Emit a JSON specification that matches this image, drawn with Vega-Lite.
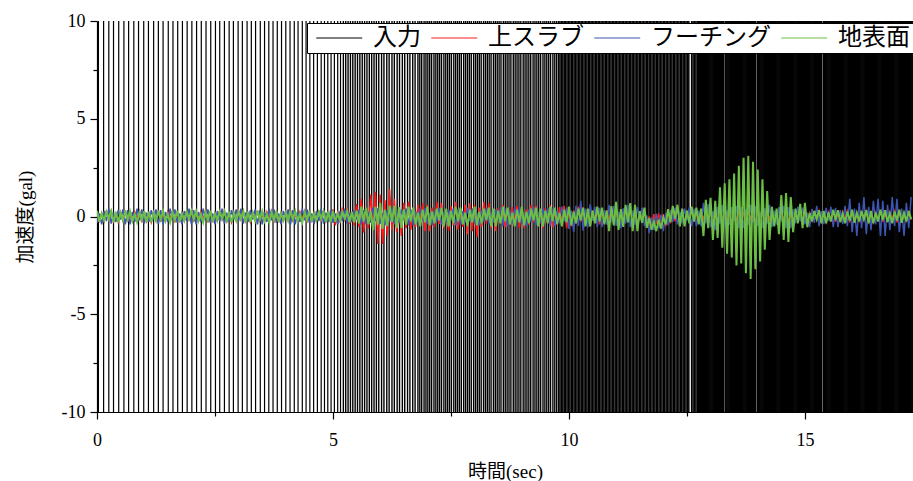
{
"$schema":"https://vega.github.io/schema/vega-lite/v6.json",
"width":816,"height":391,
"autosize":"none",
"padding":{"left":97,"top":21,"right":0,"bottom":69},
"background":"white",
"config":{"view":{"stroke":null},
"axis":{"domainColor":"black","tickColor":"black","labelColor":"black","titleColor":"black","grid":false,"labelFont":"Liberation Serif","titleFont":"Liberation Serif, Noto Sans CJK JP","labelFontSize":18,"titleFontSize":19,"titleFontWeight":"normal","domainWidth":1.2,"tickWidth":1.2}},
"datasets":{
"input":[{"t":0.03},{"t":0.14},{"t":0.25},{"t":0.35},{"t":0.46},{"t":0.57},{"t":0.67},{"t":0.78},{"t":0.88},{"t":0.99},{"t":1.09},{"t":1.2},{"t":1.3},{"t":1.4},{"t":1.51},{"t":1.61},{"t":1.71},{"t":1.81},{"t":1.91},{"t":2.01},{"t":2.11},{"t":2.21},{"t":2.31},{"t":2.41},{"t":2.51},{"t":2.6},{"t":2.7},{"t":2.8},{"t":2.89},{"t":2.99},{"t":3.08},{"t":3.18},{"t":3.27},{"t":3.36},{"t":3.46},{"t":3.55},{"t":3.64},{"t":3.73},{"t":3.82},{"t":3.91},{"t":4.0},{"t":4.09},{"t":4.18},{"t":4.26},{"t":4.35},{"t":4.43},{"t":4.51},{"t":4.59},{"t":4.67},{"t":4.75},{"t":4.82},{"t":4.89},{"t":4.96},{"t":5.03},{"t":5.1},{"t":5.16},{"t":5.22},
{"t":5.27},{"t":5.32},{"t":5.37},{"t":5.42},{"t":5.47},{"t":5.52},{"t":5.57},{"t":5.62},{"t":5.67},{"t":5.72},{"t":5.77},{"t":5.82},{"t":5.87},{"t":5.92},{"t":5.97},
{"t":6.03},{"t":6.08},{"t":6.14},{"t":6.19},{"t":6.25},{"t":6.3},{"t":6.36},{"t":6.41},{"t":6.47},{"t":6.52},{"t":6.58},{"t":6.63},{"t":6.69},{"t":6.74},{"t":6.8},
{"t":6.84},{"t":6.88},{"t":6.93},{"t":6.97},{"t":7.01},{"t":7.05},{"t":7.09},{"t":7.14},{"t":7.18},{"t":7.22},{"t":7.26},{"t":7.3},{"t":7.35},{"t":7.39},{"t":7.43},{"t":7.47},{"t":7.51},{"t":7.56},{"t":7.6},{"t":7.64},{"t":7.68},{"t":7.72},{"t":7.77},{"t":7.81},{"t":7.85},{"t":7.89},{"t":7.93},{"t":7.98},{"t":8.02},{"t":8.06},{"t":8.1},{"t":8.14},{"t":8.19},{"t":8.23},{"t":8.27},{"t":8.31},{"t":8.35},{"t":8.4},{"t":8.44},{"t":8.48},{"t":8.52},{"t":8.56},{"t":8.61},{"t":8.65},{"t":8.69},{"t":8.73},{"t":8.77},{"t":8.82},{"t":8.86},{"t":8.9},{"t":8.94},{"t":8.98},{"t":9.03},{"t":9.07},{"t":9.11},{"t":9.15},{"t":9.19},{"t":9.24},{"t":9.28},{"t":9.32},{"t":9.36},{"t":9.4},{"t":9.45},{"t":9.49},{"t":9.53},{"t":9.57},{"t":9.61},{"t":9.66},{"t":9.7},{"t":9.74},{"t":9.78},
{"t":9.81},{"t":9.84},{"t":9.87},{"t":9.9},{"t":9.93},{"t":9.96},{"t":9.99},{"t":10.02},{"t":10.05},{"t":10.08},{"t":10.11},{"t":10.14},{"t":10.17},{"t":10.2},{"t":10.23},{"t":10.26},{"t":10.29},{"t":10.32},{"t":10.35},{"t":10.38},{"t":10.41},{"t":10.44},{"t":10.47},{"t":10.5},{"t":10.53},{"t":10.56},{"t":10.59},{"t":10.62},{"t":10.65},{"t":10.68},{"t":10.71},{"t":10.74},{"t":10.77},{"t":10.8},{"t":10.83},{"t":10.86},{"t":10.89},{"t":10.92},{"t":10.95},{"t":10.98},{"t":11.01},{"t":11.04},{"t":11.07},{"t":11.1},{"t":11.13},{"t":11.16},{"t":11.19},{"t":11.22},{"t":11.25},{"t":11.28},{"t":11.31},{"t":11.34},{"t":11.37},{"t":11.4},{"t":11.43},{"t":11.46},{"t":11.49},{"t":11.52},{"t":11.55},{"t":11.58},{"t":11.61},{"t":11.64},{"t":11.67},{"t":11.7},{"t":11.73},{"t":11.76},{"t":11.79},{"t":11.82},{"t":11.85},{"t":11.88},{"t":11.91},{"t":11.94},{"t":11.97},{"t":12.0},{"t":12.03},{"t":12.06},{"t":12.09},{"t":12.12},{"t":12.15},{"t":12.18},{"t":12.21},{"t":12.24},{"t":12.27},{"t":12.3},{"t":12.33},{"t":12.36},{"t":12.39},{"t":12.42},{"t":12.45},{"t":12.48},{"t":12.51},{"t":12.54},{"t":12.6},{"t":12.63},{"t":12.66},{"t":12.69},{"t":12.72},{"t":12.75},
{"t":12.77},{"t":12.79},{"t":12.81},{"t":12.83},{"t":12.85},{"t":12.87},{"t":12.89},{"t":12.91},{"t":12.93},{"t":12.95},{"t":12.97},{"t":12.99},{"t":13.01},{"t":13.03},{"t":13.05},{"t":13.07},{"t":13.09},{"t":13.11},{"t":13.13},{"t":13.15},{"t":13.17},{"t":13.19},{"t":13.21},{"t":13.23},{"t":13.25},{"t":13.27},{"t":13.31},{"t":13.33},{"t":13.35},{"t":13.37},{"t":13.39},{"t":13.41},{"t":13.43},{"t":13.45},{"t":13.47},{"t":13.49},{"t":13.51},{"t":13.53},{"t":13.55},{"t":13.57},{"t":13.59},{"t":13.61},{"t":13.63},{"t":13.65},{"t":13.67},{"t":13.69},{"t":13.71},{"t":13.73},{"t":13.75},{"t":13.77},{"t":13.79},{"t":13.81},{"t":13.83},{"t":13.85},{"t":13.87},{"t":13.89},{"t":13.91},{"t":13.93},{"t":13.95},{"t":13.99},
{"t":14.01},{"t":14.03},{"t":14.05},{"t":14.07},{"t":14.09},{"t":14.11},{"t":14.13},{"t":14.15},{"t":14.17},{"t":14.19},{"t":14.21},{"t":14.23},{"t":14.25},{"t":14.27},{"t":14.29},{"t":14.31},{"t":14.33},{"t":14.35},{"t":14.37},{"t":14.39},{"t":14.41},{"t":14.43},{"t":14.45},{"t":14.47},{"t":14.49},{"t":14.51},{"t":14.53},{"t":14.55},{"t":14.57},{"t":14.59},{"t":14.61},{"t":14.63},{"t":14.65},{"t":14.67},{"t":14.69},{"t":14.71},{"t":14.73},{"t":14.75},{"t":14.77},{"t":14.79},{"t":14.81},{"t":14.83},{"t":14.85},{"t":14.87},{"t":14.89},{"t":14.91},{"t":14.93},{"t":14.95},{"t":14.97},{"t":14.99},
{"t":15.01},{"t":15.03},{"t":15.05},{"t":15.07},{"t":15.09},{"t":15.11},{"t":15.13},{"t":15.15},{"t":15.17},{"t":15.19},{"t":15.21},{"t":15.23},{"t":15.25},{"t":15.27},{"t":15.29},{"t":15.31},{"t":15.33},{"t":15.35},{"t":15.39},{"t":15.41},{"t":15.43},{"t":15.45},{"t":15.47},{"t":15.49},{"t":15.51},{"t":15.53},{"t":15.55},{"t":15.57},{"t":15.59},{"t":15.61},{"t":15.63},{"t":15.65},{"t":15.67},{"t":15.69},{"t":15.71},{"t":15.73},{"t":15.75},{"t":15.77},{"t":15.79},{"t":15.81},{"t":15.83},{"t":15.85},{"t":15.87},{"t":15.89},{"t":15.91},{"t":15.93},{"t":15.95},{"t":15.97},{"t":15.99},
{"t":16.01},{"t":16.03},{"t":16.05},{"t":16.07},{"t":16.09},{"t":16.11},{"t":16.13},{"t":16.15},{"t":16.17},{"t":16.19},{"t":16.21},{"t":16.23},{"t":16.25},{"t":16.27},{"t":16.29},{"t":16.31},{"t":16.33},{"t":16.35},{"t":16.37},{"t":16.39},{"t":16.41},{"t":16.43},{"t":16.45},{"t":16.47},{"t":16.49},{"t":16.51},{"t":16.53},{"t":16.55},{"t":16.57},{"t":16.59},{"t":16.61},{"t":16.63},{"t":16.65},{"t":16.67},{"t":16.69},{"t":16.71},{"t":16.73},{"t":16.75},{"t":16.77},{"t":16.79},{"t":16.81},{"t":16.83},{"t":16.85},{"t":16.87},{"t":16.89},{"t":16.91},{"t":16.93},{"t":16.95},{"t":16.97},{"t":16.99},
{"t":17.01},{"t":17.03},{"t":17.05},{"t":17.07},{"t":17.09},{"t":17.11},{"t":17.13},{"t":17.15},{"t":17.17},{"t":17.19},{"t":17.21},{"t":17.23},{"t":17.25},{"t":17.27},{"t":17.29}],
"resp":[
{"t":0,"r":0.24,"b":-0.32,"g":0.3},{"t":0.05,"r":-0.3,"b":0.16,"g":-0.27},{"t":0.1,"r":0.18,"b":-0.4,"g":0.15},{"t":0.15,"r":-0.21,"b":0.28,"g":-0.21},{"t":0.2,"r":0.3,"b":-0.24,"g":0.24},{"t":0.25,"r":-0.15,"b":0.4,"g":-0.12},{"t":0.3,"r":0.27,"b":-0.36,"g":0.27},{"t":0.35,"r":-0.24,"b":0.2,"g":-0.3},{"t":0.4,"r":0.12,"b":-0.28,"g":0.24},{"t":0.45,"r":-0.3,"b":0.32,"g":-0.3},{"t":0.5,"r":0.21,"b":-0.16,"g":0.18},{"t":0.55,"r":-0.18,"b":0.36,"g":-0.21},{"t":0.6,"r":0.3,"b":-0.4,"g":0.3},{"t":0.65,"r":-0.27,"b":0.32,"g":-0.15},{"t":0.7,"r":0.15,"b":-0.4,"g":0.27},{"t":0.75,"r":-0.21,"b":0.24,"g":-0.24},{"t":0.8,"r":0.24,"b":-0.28,"g":0.12},{"t":0.85,"r":-0.12,"b":0.4,"g":-0.3},{"t":0.9,"r":0.27,"b":-0.2,"g":0.21},{"t":0.95,"r":-0.3,"b":0.36,"g":-0.18},
{"t":1.0,"r":0.27,"b":-0.36,"g":0.27},{"t":1.05,"r":-0.24,"b":0.2,"g":-0.3},{"t":1.1,"r":0.12,"b":-0.28,"g":0.24},{"t":1.15,"r":-0.3,"b":0.32,"g":-0.3},{"t":1.2,"r":0.21,"b":-0.16,"g":0.18},{"t":1.25,"r":-0.18,"b":0.36,"g":-0.21},{"t":1.3,"r":0.3,"b":-0.4,"g":0.3},{"t":1.35,"r":-0.27,"b":0.32,"g":-0.15},{"t":1.4,"r":0.15,"b":-0.4,"g":0.27},{"t":1.45,"r":-0.21,"b":0.24,"g":-0.24},{"t":1.5,"r":0.24,"b":-0.28,"g":0.12},{"t":1.55,"r":-0.12,"b":0.4,"g":-0.3},{"t":1.6,"r":0.27,"b":-0.2,"g":0.21},{"t":1.65,"r":-0.3,"b":0.36,"g":-0.18},{"t":1.7,"r":0.24,"b":-0.32,"g":0.3},{"t":1.75,"r":-0.3,"b":0.16,"g":-0.27},{"t":1.8,"r":0.18,"b":-0.4,"g":0.15},{"t":1.85,"r":-0.21,"b":0.28,"g":-0.21},{"t":1.9,"r":0.3,"b":-0.24,"g":0.24},{"t":1.95,"r":-0.15,"b":0.4,"g":-0.12},
{"t":2.0,"r":0.3,"b":-0.4,"g":0.3},{"t":2.05,"r":-0.27,"b":0.32,"g":-0.15},{"t":2.1,"r":0.15,"b":-0.4,"g":0.27},{"t":2.15,"r":-0.21,"b":0.24,"g":-0.24},{"t":2.2,"r":0.24,"b":-0.28,"g":0.12},{"t":2.25,"r":-0.12,"b":0.4,"g":-0.3},{"t":2.3,"r":0.27,"b":-0.2,"g":0.21},{"t":2.35,"r":-0.3,"b":0.36,"g":-0.18},{"t":2.4,"r":0.24,"b":-0.32,"g":0.3},{"t":2.45,"r":-0.3,"b":0.16,"g":-0.27},{"t":2.5,"r":0.18,"b":-0.4,"g":0.15},{"t":2.55,"r":-0.21,"b":0.28,"g":-0.21},{"t":2.6,"r":0.3,"b":-0.24,"g":0.24},{"t":2.65,"r":-0.15,"b":0.4,"g":-0.12},{"t":2.7,"r":0.27,"b":-0.36,"g":0.27},{"t":2.75,"r":-0.24,"b":0.2,"g":-0.3},{"t":2.8,"r":0.12,"b":-0.28,"g":0.24},{"t":2.85,"r":-0.3,"b":0.32,"g":-0.3},{"t":2.9,"r":0.21,"b":-0.16,"g":0.18},{"t":2.95,"r":-0.18,"b":0.36,"g":-0.21},
{"t":3.0,"r":0.3,"b":-0.24,"g":0.24},{"t":3.05,"r":-0.15,"b":0.4,"g":-0.12},{"t":3.1,"r":0.27,"b":-0.36,"g":0.27},{"t":3.15,"r":-0.24,"b":0.2,"g":-0.3},{"t":3.2,"r":0.12,"b":-0.28,"g":0.24},{"t":3.25,"r":-0.3,"b":0.32,"g":-0.3},{"t":3.3,"r":0.21,"b":-0.16,"g":0.18},{"t":3.35,"r":-0.18,"b":0.36,"g":-0.21},{"t":3.4,"r":0.3,"b":-0.4,"g":0.3},{"t":3.45,"r":-0.27,"b":0.32,"g":-0.15},{"t":3.5,"r":0.15,"b":-0.4,"g":0.27},{"t":3.55,"r":-0.21,"b":0.24,"g":-0.24},{"t":3.6,"r":0.24,"b":-0.28,"g":0.12},{"t":3.65,"r":-0.12,"b":0.4,"g":-0.3},{"t":3.7,"r":0.27,"b":-0.2,"g":0.21},{"t":3.75,"r":-0.3,"b":0.36,"g":-0.18},{"t":3.8,"r":0.24,"b":-0.32,"g":0.3},{"t":3.85,"r":-0.3,"b":0.16,"g":-0.27},{"t":3.9,"r":0.18,"b":-0.4,"g":0.15},{"t":3.95,"r":-0.21,"b":0.28,"g":-0.21},
{"t":4.0,"r":0.21,"b":-0.16,"g":0.18},{"t":4.05,"r":-0.18,"b":0.36,"g":-0.21},{"t":4.1,"r":0.3,"b":-0.4,"g":0.3},{"t":4.15,"r":-0.27,"b":0.32,"g":-0.15},{"t":4.2,"r":0.15,"b":-0.4,"g":0.27},{"t":4.25,"r":-0.21,"b":0.24,"g":-0.24},{"t":4.3,"r":0.24,"b":-0.28,"g":0.12},{"t":4.35,"r":-0.12,"b":0.4,"g":-0.3},{"t":4.4,"r":0.27,"b":-0.2,"g":0.21},{"t":4.45,"r":-0.3,"b":0.36,"g":-0.18},{"t":4.5,"r":0.24,"b":-0.32,"g":0.3},{"t":4.55,"r":-0.3,"b":0.16,"g":-0.27},{"t":4.6,"r":0.18,"b":-0.4,"g":0.15},{"t":4.65,"r":-0.21,"b":0.28,"g":-0.21},{"t":4.7,"r":0.3,"b":-0.24,"g":0.24},{"t":4.75,"r":-0.15,"b":0.4,"g":-0.12},{"t":4.8,"r":0.27,"b":-0.36,"g":0.27},{"t":4.85,"r":-0.24,"b":0.2,"g":-0.3},{"t":4.9,"r":0.12,"b":-0.28,"g":0.24},{"t":4.95,"r":-0.3,"b":0.32,"g":-0.3},
{"t":5.0,"r":0.36,"b":-0.32,"g":0.3},{"t":5.05,"r":-0.45,"b":0.16,"g":-0.27},{"t":5.1,"r":0.27,"b":-0.4,"g":0.15},{"t":5.15,"r":-0.32,"b":0.28,"g":-0.21},{"t":5.2,"r":0.45,"b":-0.24,"g":0.24},{"t":5.25,"r":-0.23,"b":0.4,"g":-0.12},{"t":5.3,"r":0.41,"b":-0.36,"g":0.27},{"t":5.35,"r":-0.36,"b":0.2,"g":-0.3},{"t":5.4,"r":0.18,"b":-0.28,"g":0.24},{"t":5.45,"r":-0.45,"b":0.32,"g":-0.3},
{"t":5.5,"r":0.63,"b":-0.16,"g":0.3},{"t":5.55,"r":-0.54,"b":0.36,"g":-0.35},{"t":5.6,"r":0.9,"b":-0.4,"g":0.5},{"t":5.65,"r":-0.81,"b":0.32,"g":-0.25},{"t":5.7,"r":0.45,"b":-0.4,"g":0.45},{"t":5.75,"r":-0.63,"b":0.24,"g":-0.4},
{"t":5.8,"r":1.12,"b":-0.32,"g":0.28},{"t":5.85,"r":-0.56,"b":0.45,"g":-0.7},{"t":5.9,"r":1.26,"b":-0.23,"g":0.49},{"t":5.95,"r":-1.4,"b":0.41,"g":-0.42},{"t":6.0,"r":1.12,"b":-0.36,"g":0.7},{"t":6.05,"r":-1.4,"b":0.18,"g":-0.63},{"t":6.1,"r":0.84,"b":-0.45,"g":0.35},{"t":6.15,"r":-0.98,"b":0.32,"g":-0.49},{"t":6.2,"r":1.4,"b":-0.27,"g":0.56},{"t":6.25,"r":-0.7,"b":0.45,"g":-0.28},
{"t":6.3,"r":0.9,"b":-0.41,"g":0.54},{"t":6.35,"r":-0.8,"b":0.23,"g":-0.6},{"t":6.4,"r":0.4,"b":-0.32,"g":0.48},{"t":6.45,"r":-1.0,"b":0.36,"g":-0.6},{"t":6.5,"r":0.7,"b":-0.18,"g":0.36},{"t":6.55,"r":-0.6,"b":0.41,"g":-0.42},
{"t":6.6,"r":0.75,"b":-0.45,"g":0.5},{"t":6.65,"r":-0.68,"b":0.36,"g":-0.25},{"t":6.7,"r":0.38,"b":-0.45,"g":0.45},{"t":6.75,"r":-0.53,"b":0.27,"g":-0.4},{"t":6.8,"r":0.6,"b":-0.32,"g":0.2},{"t":6.85,"r":-0.3,"b":0.45,"g":-0.5},{"t":6.9,"r":0.68,"b":-0.23,"g":0.35},{"t":6.95,"r":-0.75,"b":0.41,"g":-0.3},{"t":7.0,"r":0.6,"b":-0.36,"g":0.5},{"t":7.05,"r":-0.75,"b":0.18,"g":-0.45},{"t":7.1,"r":0.45,"b":-0.45,"g":0.25},{"t":7.15,"r":-0.53,"b":0.32,"g":-0.35},{"t":7.2,"r":0.75,"b":-0.27,"g":0.4},{"t":7.25,"r":-0.38,"b":0.45,"g":-0.2},{"t":7.3,"r":0.68,"b":-0.41,"g":0.45},{"t":7.35,"r":-0.6,"b":0.23,"g":-0.5},{"t":7.4,"r":0.3,"b":-0.32,"g":0.4},{"t":7.45,"r":-0.75,"b":0.36,"g":-0.5},{"t":7.5,"r":0.53,"b":-0.18,"g":0.3},{"t":7.55,"r":-0.45,"b":0.41,"g":-0.35},
{"t":7.6,"r":0.75,"b":-0.45,"g":0.5},{"t":7.65,"r":-0.68,"b":0.36,"g":-0.25},{"t":7.7,"r":0.38,"b":-0.45,"g":0.45},{"t":7.75,"r":-0.53,"b":0.27,"g":-0.4},{"t":7.8,"r":0.6,"b":-0.32,"g":0.2},{"t":7.85,"r":-0.9,"b":0.45,"g":-0.5},{"t":7.9,"r":0.68,"b":-0.23,"g":0.35},{"t":7.95,"r":-0.75,"b":0.41,"g":-0.3},{"t":8.0,"r":0.6,"b":-0.36,"g":0.5},{"t":8.05,"r":-1.05,"b":0.18,"g":-0.45},{"t":8.1,"r":0.45,"b":-0.45,"g":0.25},{"t":8.15,"r":-0.53,"b":0.32,"g":-0.35},{"t":8.2,"r":0.75,"b":-0.27,"g":0.4},{"t":8.25,"r":-0.38,"b":0.45,"g":-0.2},{"t":8.3,"r":0.68,"b":-0.41,"g":0.45},{"t":8.35,"r":-0.6,"b":0.23,"g":-0.5},{"t":8.4,"r":0.3,"b":-0.32,"g":0.4},{"t":8.45,"r":-0.75,"b":0.36,"g":-0.5},
{"t":8.5,"r":0.42,"b":-0.2,"g":0.3},{"t":8.55,"r":-0.36,"b":0.45,"g":-0.35},{"t":8.6,"r":0.6,"b":-0.5,"g":0.5},{"t":8.65,"r":-0.54,"b":0.4,"g":-0.25},{"t":8.7,"r":0.3,"b":-0.5,"g":0.45},{"t":8.75,"r":-0.42,"b":0.3,"g":-0.4},{"t":8.8,"r":0.48,"b":-0.35,"g":0.2},{"t":8.85,"r":-0.24,"b":0.5,"g":-0.5},{"t":8.9,"r":0.54,"b":-0.25,"g":0.35},{"t":8.95,"r":-0.6,"b":0.45,"g":-0.3},{"t":9.0,"r":0.48,"b":-0.4,"g":0.5},{"t":9.05,"r":-0.6,"b":0.2,"g":-0.45},{"t":9.1,"r":0.36,"b":-0.5,"g":0.25},{"t":9.15,"r":-0.42,"b":0.35,"g":-0.35},{"t":9.2,"r":0.6,"b":-0.3,"g":0.4},{"t":9.25,"r":-0.3,"b":0.5,"g":-0.2},{"t":9.3,"r":0.54,"b":-0.45,"g":0.45},{"t":9.35,"r":-0.48,"b":0.25,"g":-0.5},{"t":9.4,"r":0.24,"b":-0.35,"g":0.4},{"t":9.45,"r":-0.6,"b":0.4,"g":-0.5},
{"t":9.5,"r":0.42,"b":-0.2,"g":0.3},{"t":9.55,"r":-0.36,"b":0.45,"g":-0.35},{"t":9.6,"r":0.6,"b":-0.5,"g":0.5},{"t":9.65,"r":-0.54,"b":0.4,"g":-0.25},{"t":9.7,"r":0.3,"b":-0.5,"g":0.45},{"t":9.75,"r":-0.42,"b":0.3,"g":-0.4},{"t":9.8,"r":0.48,"b":-0.35,"g":0.2},{"t":9.85,"r":-0.24,"b":0.5,"g":-0.5},{"t":9.9,"r":0.54,"b":-0.25,"g":0.35},{"t":9.95,"r":-0.6,"b":0.45,"g":-0.3},
{"t":10.0,"r":0.4,"b":-0.64,"g":0.5},{"t":10.05,"r":-0.5,"b":0.32,"g":-0.45},{"t":10.1,"r":0.3,"b":-0.8,"g":0.25},{"t":10.15,"r":-0.35,"b":0.56,"g":-0.35},{"t":10.2,"r":0.5,"b":-0.48,"g":0.4},{"t":10.25,"r":-0.25,"b":0.8,"g":-0.2},{"t":10.3,"r":0.45,"b":-0.72,"g":0.45},{"t":10.35,"r":-0.4,"b":0.4,"g":-0.5},{"t":10.4,"r":0.2,"b":-0.56,"g":0.4},{"t":10.45,"r":-0.5,"b":0.64,"g":-0.5},
{"t":10.5,"r":0.32,"b":-0.22,"g":0.3},{"t":10.55,"r":-0.27,"b":0.5,"g":-0.35},{"t":10.6,"r":0.45,"b":-0.55,"g":0.5},{"t":10.65,"r":-0.41,"b":0.44,"g":-0.25},{"t":10.7,"r":0.23,"b":-0.55,"g":0.45},{"t":10.75,"r":-0.32,"b":0.33,"g":-0.4},
{"t":10.8,"r":0.32,"b":-0.42,"g":0.3},{"t":10.85,"r":-0.16,"b":0.6,"g":-0.75},{"t":10.9,"r":0.36,"b":-0.3,"g":0.53},{"t":10.95,"r":-0.4,"b":0.54,"g":-0.45},{"t":11.0,"r":0.32,"b":-0.48,"g":0.75},{"t":11.05,"r":-0.4,"b":0.24,"g":-0.68},{"t":11.1,"r":0.24,"b":-0.6,"g":0.38},{"t":11.15,"r":-0.28,"b":0.42,"g":-0.53},{"t":11.2,"r":0.4,"b":-0.36,"g":0.6},{"t":11.25,"r":-0.2,"b":0.6,"g":-0.3},{"t":11.3,"r":0.36,"b":-0.54,"g":0.68},{"t":11.35,"r":-0.32,"b":0.3,"g":-0.75},{"t":11.4,"r":0.16,"b":-0.42,"g":0.6},{"t":11.45,"r":-0.4,"b":0.48,"g":-0.75},
{"t":11.5,"r":0.28,"b":-0.2,"g":0.27},{"t":11.55,"r":-0.24,"b":0.45,"g":-0.32},{"t":11.6,"r":0.4,"b":-0.5,"g":0.45},
{"t":11.65,"r":-0.56,"b":0.05,"g":-0.58},{"t":11.7,"r":0.0,"b":-0.85,"g":-0.09},{"t":11.75,"r":-0.48,"b":-0.05,"g":-0.68},{"t":11.8,"r":0.12,"b":-0.7,"g":-0.26},{"t":11.85,"r":-0.36,"b":0.15,"g":-0.75},{"t":11.9,"r":0.16,"b":-0.6,"g":-0.16},{"t":11.95,"r":-0.6,"b":0.1,"g":-0.61},{"t":12.0,"r":0.12,"b":-0.75,"g":-0.05},
{"t":12.05,"r":-0.5,"b":0.18,"g":-0.4},{"t":12.1,"r":0.3,"b":-0.45,"g":0.38},{"t":12.15,"r":-0.35,"b":0.32,"g":-0.29},{"t":12.2,"r":0.5,"b":-0.27,"g":0.54},{"t":12.25,"r":-0.25,"b":0.45,"g":-0.12},{"t":12.3,"r":0.45,"b":-0.41,"g":0.6},
{"t":12.35,"r":-0.24,"b":0.25,"g":-0.5},{"t":12.4,"r":0.12,"b":-0.35,"g":0.4},{"t":12.45,"r":-0.3,"b":0.4,"g":-0.5},{"t":12.5,"r":0.21,"b":-0.2,"g":0.3},{"t":12.55,"r":-0.18,"b":0.45,"g":-0.35},{"t":12.6,"r":0.3,"b":-0.5,"g":0.5},{"t":12.65,"r":-0.27,"b":0.4,"g":-0.25},{"t":12.7,"r":0.15,"b":-0.5,"g":0.45},{"t":12.75,"r":-0.21,"b":0.3,"g":-0.4},
{"t":12.8,"r":0.24,"b":-0.49,"g":0.4},{"t":12.85,"r":-0.12,"b":0.7,"g":-1.0},{"t":12.9,"r":0.27,"b":-0.35,"g":0.85},{"t":12.95,"r":-0.3,"b":0.63,"g":-0.6},{"t":13.0,"r":0.24,"b":-0.56,"g":0.95},{"t":13.05,"r":-0.3,"b":0.28,"g":-1.2},{"t":13.1,"r":0.18,"b":-0.7,"g":0.8},{"t":13.15,"r":-0.21,"b":0.49,"g":-1.1},
{"t":13.2,"r":0.3,"b":-0.36,"g":1.5},{"t":13.25,"r":-0.15,"b":0.6,"g":-1.6},{"t":13.3,"r":0.27,"b":-0.54,"g":1.7},{"t":13.35,"r":-0.24,"b":0.3,"g":-1.9},{"t":13.4,"r":0.12,"b":-0.42,"g":1.9},
{"t":13.45,"r":-0.3,"b":0.48,"g":-2.1},{"t":13.5,"r":0.21,"b":-0.24,"g":2.2},{"t":13.55,"r":-0.18,"b":0.54,"g":-2.5},
{"t":13.6,"r":0.3,"b":-0.6,"g":2.6},{"t":13.65,"r":-0.27,"b":0.48,"g":-2.4},{"t":13.7,"r":0.15,"b":-0.6,"g":3.0},{"t":13.75,"r":-0.21,"b":0.36,"g":-2.9},{"t":13.8,"r":0.24,"b":-0.42,"g":3.1},{"t":13.85,"r":-0.12,"b":0.6,"g":-3.2},{"t":13.9,"r":0.27,"b":-0.3,"g":2.8},{"t":13.95,"r":-0.3,"b":0.54,"g":-2.7},
{"t":14.0,"r":0.24,"b":-0.48,"g":2.4},{"t":14.05,"r":-0.3,"b":0.24,"g":-2.3},{"t":14.1,"r":0.18,"b":-0.6,"g":1.9},
{"t":14.15,"r":-0.21,"b":0.42,"g":-1.7},{"t":14.2,"r":0.3,"b":-0.36,"g":1.3},{"t":14.25,"r":-0.15,"b":0.6,"g":-1.2},
{"t":14.3,"r":0.27,"b":-0.54,"g":0.5},{"t":14.35,"r":-0.24,"b":0.3,"g":-0.5},{"t":14.4,"r":0.12,"b":-0.42,"g":0.4},
{"t":14.45,"r":-0.3,"b":0.48,"g":-0.9},{"t":14.5,"r":0.21,"b":-0.24,"g":1.1},{"t":14.55,"r":-0.18,"b":0.54,"g":-1.2},{"t":14.6,"r":0.3,"b":-0.6,"g":1.2},{"t":14.65,"r":-0.27,"b":0.48,"g":-1.3},{"t":14.7,"r":0.15,"b":-0.6,"g":1.0},{"t":14.75,"r":-0.21,"b":0.36,"g":-0.8},
{"t":14.8,"r":0.24,"b":-0.35,"g":0.4},{"t":14.85,"r":-0.12,"b":0.5,"g":-0.35},
{"t":14.9,"r":0.27,"b":-0.25,"g":0.65},{"t":14.95,"r":-0.3,"b":0.45,"g":-0.6},{"t":15.0,"r":0.24,"b":-0.4,"g":0.7},{"t":15.05,"r":-0.3,"b":0.2,"g":-0.55},
{"t":15.1,"r":0.18,"b":-0.55,"g":0.18},{"t":15.15,"r":-0.21,"b":0.39,"g":-0.25},{"t":15.2,"r":0.3,"b":-0.33,"g":0.28},{"t":15.25,"r":-0.15,"b":0.55,"g":-0.14},{"t":15.3,"r":0.27,"b":-0.5,"g":0.32},{"t":15.35,"r":-0.24,"b":0.28,"g":-0.35},{"t":15.4,"r":0.12,"b":-0.39,"g":0.28},{"t":15.45,"r":-0.3,"b":0.44,"g":-0.35},{"t":15.5,"r":0.21,"b":-0.22,"g":0.21},{"t":15.55,"r":-0.18,"b":0.5,"g":-0.25},{"t":15.6,"r":0.3,"b":-0.55,"g":0.35},{"t":15.65,"r":-0.27,"b":0.44,"g":-0.18},{"t":15.7,"r":0.15,"b":-0.55,"g":0.32},{"t":15.75,"r":-0.21,"b":0.33,"g":-0.28},{"t":15.8,"r":0.24,"b":-0.39,"g":0.14},{"t":15.85,"r":-0.12,"b":0.55,"g":-0.35},
{"t":15.9,"r":0.27,"b":-0.5,"g":0.25},{"t":15.95,"r":-0.3,"b":0.9,"g":-0.21},{"t":16.0,"r":0.24,"b":-0.8,"g":0.35},{"t":16.05,"r":-0.3,"b":0.4,"g":-0.32},{"t":16.1,"r":0.18,"b":-1.0,"g":0.18},{"t":16.15,"r":-0.21,"b":0.7,"g":-0.25},{"t":16.2,"r":0.3,"b":-0.6,"g":0.28},{"t":16.25,"r":-0.15,"b":1.0,"g":-0.14},{"t":16.3,"r":0.27,"b":-0.9,"g":0.32},{"t":16.35,"r":-0.24,"b":0.5,"g":-0.35},{"t":16.4,"r":0.12,"b":-0.7,"g":0.28},{"t":16.45,"r":-0.3,"b":0.8,"g":-0.35},{"t":16.5,"r":0.21,"b":-0.4,"g":0.21},{"t":16.55,"r":-0.18,"b":0.9,"g":-0.25},{"t":16.6,"r":0.3,"b":-1.0,"g":0.35},{"t":16.65,"r":-0.27,"b":0.8,"g":-0.18},{"t":16.7,"r":0.15,"b":-1.0,"g":0.32},{"t":16.75,"r":-0.21,"b":0.6,"g":-0.28},{"t":16.8,"r":0.24,"b":-0.7,"g":0.14},{"t":16.85,"r":-0.12,"b":1.0,"g":-0.35},{"t":16.9,"r":0.27,"b":-0.5,"g":0.25},{"t":16.95,"r":-0.3,"b":0.9,"g":-0.21},{"t":17.0,"r":0.24,"b":-0.8,"g":0.35},{"t":17.05,"r":-0.3,"b":0.4,"g":-0.32},{"t":17.1,"r":0.18,"b":-1.0,"g":0.18},{"t":17.15,"r":-0.21,"b":0.7,"g":-0.25},{"t":17.2,"r":0.3,"b":-0.6,"g":0.28},{"t":17.25,"r":-0.15,"b":1.0,"g":-0.14}
]},
"layer":[
{"data":{"name":"input"},
 "mark":{"type":"rule"},
 "encoding":{
  "x":{"field":"t","type":"quantitative","title":"時間(sec)",
   "scale":{"domain":[0,17.29],"nice":false,"zero":false},
   "axis":{"values":[0,2.5,5,7.5,10,12.5,15],"labelExpr":"datum.value % 5 === 0 ? datum.label : ''","tickSize":{"condition":{"test":"datum.value % 5 === 0","value":7},"value":4},"labelPadding":12,"titlePadding":13,"labelFlush":false}},
  "strokeWidth":{"condition":[{"test":"datum.t > 12.76","value":1.6},{"test":"datum.t > 9.8","value":1.5},{"test":"datum.t > 5.2","value":1.4}],"value":1.2},
  "color":{"datum":"a","type":"nominal",
   "scale":{"domain":["a","r","b","g"],"range":["#000000","#ff1a1a","#3d56b2","#6cbf45"]},
   "legend":{"orient":"none","legendX":210,"legendY":2,"direction":"horizontal","title":null,"fillColor":"white","strokeColor":"black","padding":3,"labelFont":"Liberation Serif, Noto Sans CJK JP","labelFontSize":24,"labelColor":"black","symbolType":"M-1,0H7","symbolSize":132,"symbolStrokeWidth":1,"labelOffset":39,"columnPadding":4,"labelLimit":0,
    "labelExpr":"datum.label == 'a' ? '入力' : datum.label == 'r' ? '上スラブ' : datum.label == 'b' ? 'フーチング' : '地表面'"}}}},
{"data":{"name":"resp"},
 "mark":{"type":"line","strokeWidth":1.5,"clip":true},
 "encoding":{
  "x":{"field":"t","type":"quantitative","title":"時間(sec)"},
  "y":{"field":"r","type":"quantitative","title":"加速度(gal)",
   "scale":{"domain":[-10,10],"nice":false},
   "axis":{"values":[-10,-7.5,-5,-2.5,0,2.5,5,7.5,10],"labelExpr":"datum.value % 5 === 0 ? replace(datum.label, '−', '-') : ''","tickSize":{"condition":{"test":"datum.value % 5 === 0","value":7},"value":4},"labelPadding":5,"titlePadding":26,"labelFlush":false}},
  "color":{"datum":"r","type":"nominal"}}},
{"data":{"name":"resp"},
 "mark":{"type":"line","strokeWidth":1.5,"clip":true},
 "encoding":{
  "x":{"field":"t","type":"quantitative","title":"時間(sec)"},
  "y":{"field":"b","type":"quantitative","title":"加速度(gal)"},
  "color":{"datum":"b","type":"nominal"}}},
{"data":{"name":"resp"},
 "mark":{"type":"line","strokeWidth":2,"clip":true},
 "encoding":{
  "x":{"field":"t","type":"quantitative","title":"時間(sec)"},
  "y":{"field":"g","type":"quantitative","title":"加速度(gal)"},
  "color":{"datum":"g","type":"nominal"}}}
]
}
